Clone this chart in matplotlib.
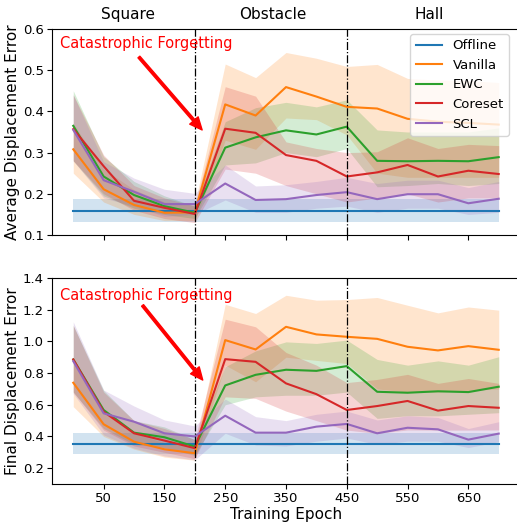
import numpy as np
import matplotlib
matplotlib.use('Agg')
import matplotlib.pyplot as plt

# training epochs
epochs = [0, 50, 100, 150, 200, 250, 300, 350, 400, 450, 500, 550, 600, 650, 700]
xticks = [50, 150, 250, 350, 450, 550, 650]
methods = ['Offline', 'Vanilla', 'EWC', 'Coreset', 'SCL']
stages = ['Square', 'Obstacle', 'Hall']
stage_centers = [90, 328, 586]
switch_epochs = [200, 450]

# ---- ADE (top) ----
ade_offline = [0.158] * 15
ade_offline_lo = [0.132] * 15
ade_offline_hi = [0.187] * 15

ade_vanilla = [0.308, 0.211, 0.173, 0.154, 0.155, 0.417, 0.390, 0.459, 0.436, 0.411, 0.407, 0.382, 0.375, 0.372, 0.368]
ade_vanilla_lo = [0.250, 0.180, 0.150, 0.135, 0.135, 0.330, 0.308, 0.384, 0.380, 0.343, 0.250, 0.240, 0.240, 0.240, 0.240]
ade_vanilla_hi = [0.370, 0.260, 0.210, 0.180, 0.175, 0.515, 0.482, 0.543, 0.529, 0.509, 0.514, 0.480, 0.476, 0.475, 0.470]

ade_ewc = [0.365, 0.242, 0.197, 0.170, 0.154, 0.312, 0.337, 0.354, 0.344, 0.363, 0.280, 0.279, 0.280, 0.279, 0.289]
ade_ewc_lo = [0.280, 0.195, 0.165, 0.150, 0.140, 0.270, 0.275, 0.300, 0.290, 0.310, 0.217, 0.220, 0.225, 0.220, 0.225]
ade_ewc_hi = [0.450, 0.290, 0.230, 0.195, 0.170, 0.375, 0.409, 0.422, 0.411, 0.428, 0.355, 0.350, 0.350, 0.350, 0.360]

ade_coreset = [0.357, 0.267, 0.183, 0.166, 0.151, 0.358, 0.348, 0.294, 0.280, 0.242, 0.252, 0.270, 0.242, 0.256, 0.248]
ade_coreset_lo = [0.280, 0.200, 0.160, 0.140, 0.130, 0.260, 0.250, 0.220, 0.200, 0.180, 0.190, 0.200, 0.180, 0.190, 0.190]
ade_coreset_hi = [0.440, 0.294, 0.220, 0.190, 0.170, 0.460, 0.437, 0.326, 0.310, 0.300, 0.302, 0.336, 0.310, 0.320, 0.317]

ade_scl = [0.355, 0.233, 0.205, 0.175, 0.175, 0.225, 0.185, 0.187, 0.197, 0.204, 0.187, 0.199, 0.199, 0.177, 0.188]
ade_scl_lo = [0.280, 0.190, 0.170, 0.145, 0.150, 0.185, 0.155, 0.155, 0.165, 0.170, 0.155, 0.165, 0.165, 0.150, 0.155]
ade_scl_hi = [0.440, 0.278, 0.238, 0.211, 0.201, 0.270, 0.219, 0.222, 0.230, 0.240, 0.225, 0.233, 0.233, 0.215, 0.230]

# ---- FDE (bottom) ----
fde_offline = [0.353] * 15
fde_offline_lo = [0.288] * 15
fde_offline_hi = [0.420] * 15

fde_vanilla = [0.739, 0.477, 0.367, 0.319, 0.294, 1.008, 0.949, 1.092, 1.044, 1.029, 1.016, 0.966, 0.943, 0.970, 0.947]
fde_vanilla_lo = [0.588, 0.400, 0.320, 0.270, 0.250, 0.850, 0.745, 0.900, 0.880, 0.860, 0.700, 0.680, 0.680, 0.690, 0.700]
fde_vanilla_hi = [0.900, 0.560, 0.420, 0.360, 0.330, 1.234, 1.176, 1.291, 1.260, 1.264, 1.277, 1.228, 1.180, 1.217, 1.197]

fde_ewc = [0.886, 0.567, 0.424, 0.395, 0.336, 0.722, 0.789, 0.821, 0.814, 0.844, 0.682, 0.676, 0.685, 0.680, 0.714]
fde_ewc_lo = [0.680, 0.450, 0.350, 0.330, 0.280, 0.600, 0.650, 0.660, 0.660, 0.680, 0.514, 0.531, 0.530, 0.540, 0.550]
fde_ewc_hi = [1.100, 0.690, 0.500, 0.460, 0.380, 0.840, 0.940, 0.997, 0.987, 1.008, 0.886, 0.850, 0.877, 0.850, 0.903]

fde_coreset = [0.886, 0.556, 0.420, 0.374, 0.326, 0.888, 0.871, 0.735, 0.667, 0.567, 0.592, 0.624, 0.563, 0.592, 0.581]
fde_coreset_lo = [0.680, 0.440, 0.340, 0.300, 0.260, 0.650, 0.640, 0.560, 0.500, 0.440, 0.420, 0.441, 0.440, 0.440, 0.441]
fde_coreset_hi = [1.100, 0.680, 0.500, 0.450, 0.380, 1.140, 1.092, 0.930, 0.850, 0.740, 0.760, 0.792, 0.735, 0.766, 0.735]

fde_scl = [0.875, 0.546, 0.493, 0.420, 0.400, 0.531, 0.424, 0.424, 0.462, 0.479, 0.420, 0.455, 0.445, 0.380, 0.418]
fde_scl_lo = [0.670, 0.410, 0.326, 0.277, 0.252, 0.420, 0.346, 0.340, 0.370, 0.390, 0.350, 0.370, 0.370, 0.330, 0.367]
fde_scl_hi = [1.123, 0.693, 0.592, 0.504, 0.466, 0.636, 0.525, 0.500, 0.540, 0.560, 0.504, 0.530, 0.520, 0.450, 0.493]

ade = [(ade_offline, ade_offline_lo, ade_offline_hi),
       (ade_vanilla, ade_vanilla_lo, ade_vanilla_hi),
       (ade_ewc, ade_ewc_lo, ade_ewc_hi),
       (ade_coreset, ade_coreset_lo, ade_coreset_hi),
       (ade_scl, ade_scl_lo, ade_scl_hi)]
fde = [(fde_offline, fde_offline_lo, fde_offline_hi),
       (fde_vanilla, fde_vanilla_lo, fde_vanilla_hi),
       (fde_ewc, fde_ewc_lo, fde_ewc_hi),
       (fde_coreset, fde_coreset_lo, fde_coreset_hi),
       (fde_scl, fde_scl_lo, fde_scl_hi)]
colors = ['C0', 'C1', 'C2', 'C3', 'C4']

fig = plt.figure(figsize=(5.17, 5.23), dpi=100)
ax1 = fig.add_axes([52 / 517, 1 - 235 / 523, 468 / 517, 206 / 523])
ax2 = fig.add_axes([52 / 517, 1 - 484 / 523, 468 / 517, 206 / 523])

fs = 11


def draw(ax, data, ylabel, ylim, txt_xy, arr_start, arr_end):
    for (m, lo, hi), name, c in zip(data, methods, colors):
        ax.plot(epochs, m, color=c, label=name, lw=1.5)
        ax.fill_between(epochs, lo, hi, color=c, alpha=0.2, lw=0)
    for s in switch_epochs:
        ax.axvline(s, color='k', ls='-.', lw=0.9)
    ax.set_ylim(*ylim)
    ax.set_xlim(-35, 735)
    ax.set_xticks(xticks)
    ax.set_ylabel(ylabel, fontsize=fs, labelpad=2)
    ax.tick_params(labelsize=9.5, pad=2.5)
    ax.text(txt_xy[0], txt_xy[1], 'Catastrophic Forgetting', color='red',
            fontsize=10.5, ha='center', va='center')
    ax.annotate('', xy=arr_end, xytext=arr_start,
                arrowprops=dict(color='red', width=1.8, headwidth=8, headlength=9))


draw(ax1, ade, 'Average Displacement Error', (0.1, 0.6), (120, 0.564), (108, 0.532), (212, 0.355))
draw(ax2, fde, 'Final Displacement Error', (0.1, 1.4), (120, 1.29), (114, 1.227), (213, 0.756))

ax1.set_xticklabels([])
ax1.set_yticks([0.1, 0.2, 0.3, 0.4, 0.5, 0.6])
ax2.set_yticks([0.2, 0.4, 0.6, 0.8, 1.0, 1.2, 1.4])
ax2.set_xlabel('Training Epoch', fontsize=fs, labelpad=1)
ax1.legend(loc='upper right', fontsize=9.5, bbox_to_anchor=(509 / 517, 1 - 34 / 523),
           bbox_transform=fig.transFigure, borderaxespad=0)

for name, cx in zip(stages, stage_centers):
    ax1.text(cx, 1.035, name, transform=ax1.get_xaxis_transform(),
             ha='center', va='bottom', fontsize=fs)

plt.savefig('out.png', dpi=100)
plt.close()
